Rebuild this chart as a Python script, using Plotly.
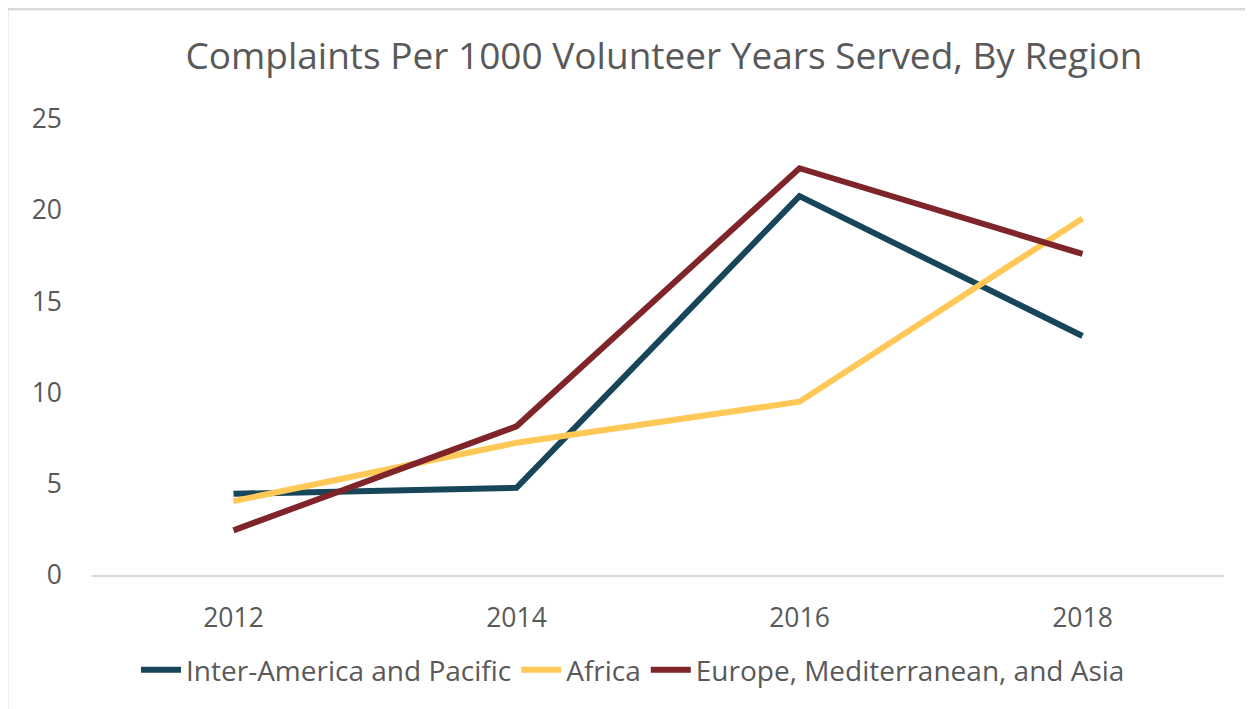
import plotly.graph_objects as go

years = ["2012", "2014", "2016", "2018"]
inter_america = [4.45, 4.78, 20.77, 13.1]
africa = [4.05, 7.25, 9.5, 19.55]
europe = [2.45, 8.15, 22.3, 17.6]
y_ticks = [0, 5, 10, 15, 20, 25]

series = [
    ("Inter-America and Pacific", inter_america, "#17455A"),
    ("Africa", africa, "#FFC857"),
    ("Europe, Mediterranean, and Asia", europe, "#7F2529"),
]

fig = go.Figure()
for name, vals, col in series:
    fig.add_trace(go.Scatter(x=years, y=vals, name=name, mode="lines",
                             line=dict(color=col, width=6)))

# page body margin offsets the figure by 8px
OFF = 8
W, H = 1253, 709
# target screen positions of plot area
SL, SR, ST, SB = 92, 1224, 119, 575
L = SL - OFF
T = ST - OFF
R = W - (SR - OFF)
B = H - (SB - OFF)
pw = W - L - R
ph = H - T - B

def px_x(p):
    return (p - OFF - L) / pw

def px_y(p):
    return (H - B - (p - OFF)) / ph

font_fam = "Open Sans, sans-serif"
txt = "#595959"
border = "#D9D9D9"

fig.update_layout(
    width=W, height=H,
    margin=dict(l=L, r=R, t=T, b=B),
    paper_bgcolor="white", plot_bgcolor="white",
    font=dict(family=font_fam, color=txt),
    title=dict(text="Complaints Per 1000 Volunteer Years Served, By Region",
               x=(664 - OFF) / W, xanchor="center", y=1 - (56 - OFF) / H,
               yanchor="middle",
               font=dict(size=37, color=txt, family=font_fam)),
    xaxis=dict(type="category", range=[-0.5, 3.5], showgrid=False,
               showline=True, linecolor=border, linewidth=2, ticks="",
               tickfont=dict(size=26.5, color=txt), ticklabelstandoff=18,
               zeroline=False, fixedrange=True),
    yaxis=dict(range=[0, 25], tickvals=y_ticks, showgrid=False,
               showline=False, zeroline=False, ticks="",
               tickfont=dict(size=26.5, color=txt), ticklabelstandoff=29,
               fixedrange=True),
    legend=dict(orientation="h", x=px_x(633), xanchor="center",
                y=px_y(670), yanchor="middle",
                font=dict(size=28, color=txt), itemwidth=40,
                bgcolor="rgba(0,0,0,0)"),
    showlegend=True,
    shapes=[
        dict(type="line", xref="paper", yref="paper",
             x0=px_x(0), x1=px_x(W + 20), y0=px_y(9), y1=px_y(9),
             line=dict(color=border, width=3)),
        dict(type="line", xref="paper", yref="paper",
             x0=px_x(7), x1=px_x(7), y0=px_y(9), y1=px_y(H + 20),
             line=dict(color=border, width=3)),
    ],
)

fig.write_html("out.html")
